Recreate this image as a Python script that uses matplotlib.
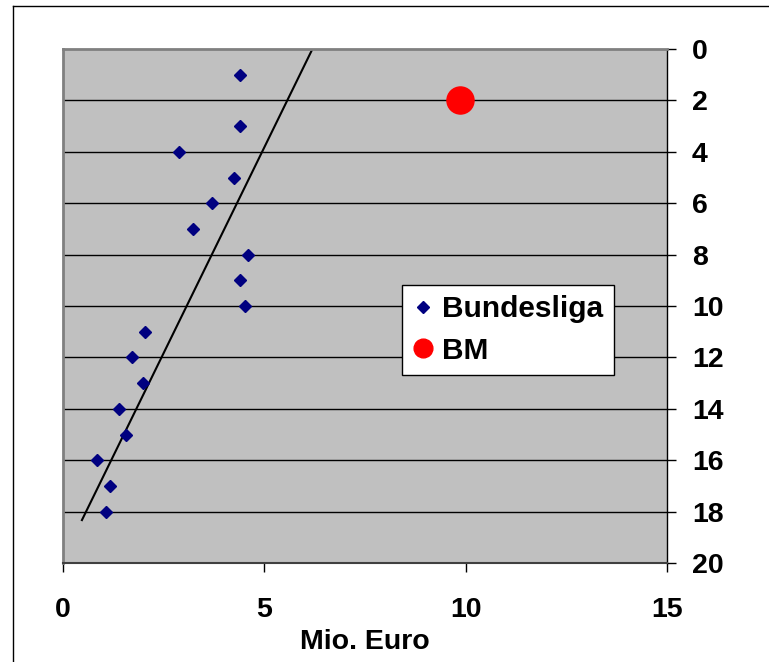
import matplotlib

matplotlib.use("Agg")
import matplotlib.pyplot as plt
from matplotlib.lines import Line2D

# data
bl_rank = [1, 3, 4, 5, 6, 7, 8, 9, 10, 11, 12, 13, 14, 15, 16, 17, 18]
bl_money = [4.40, 4.40, 2.88, 4.25, 3.70, 3.23, 4.59, 4.40, 4.52,
            2.04, 1.71, 1.99, 1.39, 1.56, 0.84, 1.17, 1.07]
bm_rank = [2]
bm_money = [9.86]
trend_money = [0.47, 6.21]
trend_rank = [18.33, -0.05]

x_ticks = [0, 5, 10, 15]
y_ticks = list(range(0, 21, 2))

font = ["Liberation Sans", "DejaVu Sans"]

fig = plt.figure(figsize=(7.69, 6.62), dpi=100)
ax = fig.add_axes([63 / 769, 99 / 662, 604 / 769, 514 / 662])
ax.set_facecolor("#c0c0c0")

# outer chart frame
fig.add_artist(Line2D([13 / 769, 13 / 769], [0, 1 - 6 / 662],
                      transform=fig.transFigure, color="black", lw=1))
fig.add_artist(Line2D([13 / 769, 1], [1 - 6 / 662, 1 - 6 / 662],
                      transform=fig.transFigure, color="black", lw=1))

for r in y_ticks[1:-1]:
    ax.axhline(r, color="black", lw=1, zorder=1)

ax.plot(trend_money, trend_rank, color="black", lw=1.5, zorder=2)
ax.plot(bl_money, bl_rank, linestyle="none", marker="D", ms=6.5,
        color="#000080", zorder=3)
ax.plot(bm_money, bm_rank, linestyle="none", marker="o", ms=19.5,
        color="#ff0000", zorder=3)

ax.set_xlim(0, 15)
ax.set_ylim(20, 0)
ax.set_xticks(x_ticks)
ax.set_yticks(y_ticks)
ax.yaxis.tick_right()
ax.tick_params(axis="x", direction="out", length=6.5, width=1, pad=18)
ax.tick_params(axis="y", direction="out", length=6.5, width=1, pad=11.5)
for lab in ax.get_xticklabels() + ax.get_yticklabels():
    lab.set_fontfamily(font)
    lab.set_fontweight("bold")
    lab.set_fontsize(20.5)
ax.set_xlabel("Mio. Euro", family=font, fontweight="bold", fontsize=20.5,
              labelpad=4)

ax.spines["top"].set_color("#808080")
ax.spines["left"].set_color("#808080")
ax.spines["top"].set_linewidth(2)
ax.spines["left"].set_linewidth(2)
ax.spines["bottom"].set_color("#404040")
ax.spines["bottom"].set_linewidth(1.5)
ax.spines["right"].set_color("black")
ax.spines["right"].set_linewidth(1)

handles = [
    Line2D([], [], linestyle="none", marker="D", ms=6.5, color="#000080"),
    Line2D([], [], linestyle="none", marker="o", ms=13.5, color="#ff0000"),
]
leg = ax.legend(handles, ["Bundesliga", "BM"], loc="upper left",
                bbox_to_anchor=(0.561, 0.541), frameon=True, fancybox=False,
                edgecolor="black", facecolor="white", framealpha=1,
                prop={"family": font, "weight": "bold", "size": 21.5},
                handlelength=0.75, handletextpad=0.25, borderpad=0.35,
                labelspacing=0.45, borderaxespad=0)
leg.get_frame().set_linewidth(1)

fig.savefig("out.png", dpi=100)
